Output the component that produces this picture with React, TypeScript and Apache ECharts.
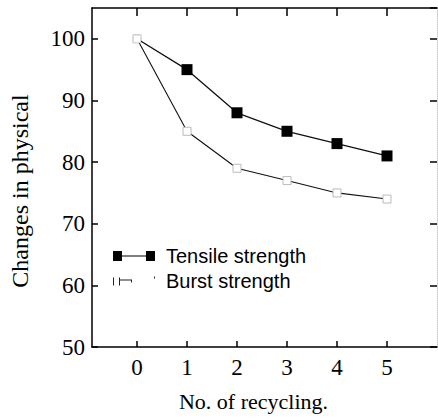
import React, { useEffect, useRef } from "react";
import * as echarts from "echarts";

const cycles = [0, 1, 2, 3, 4, 5];
const tensile = [100, 95, 88, 85, 83, 81];
const burst = [100, 85, 79, 77, 75, 74];
const seriesNames = ["Tensile strength", "Burst strength"];
const xTicks = [0, 1, 2, 3, 4, 5];

export default function App() {
  const ref = useRef<HTMLDivElement>(null);
  useEffect(() => {
    if (!ref.current) return;
    const chart = echarts.init(ref.current, null, { renderer: "svg" });
    const serif = "Liberation Serif";
    const tensileData = cycles.map((c, i) =>
      i === 0
        ? { value: [c, tensile[i]], symbolSize: 7, itemStyle: { color: "#fff", borderColor: "#ddd", borderWidth: 1 } }
        : { value: [c, tensile[i]] }
    );
    const burstData = cycles.map((c, i) => ({ value: [c, burst[i]] }));
    chart.setOption({
      animation: false,
      backgroundColor: "#fff",
      grid: { left: 87, top: 8, right: 1, bottom: 72 },
      xAxis: [
        {
          type: "value",
          position: "bottom",
          min: -0.9,
          max: 6,
          name: "No. of recycling.",
          nameLocation: "middle",
          nameGap: 43,
          nameTextStyle: { fontFamily: serif, fontSize: 22, color: "#000", padding: [0, 22, 0, 0] },
          axisLine: { show: true, onZero: false, lineStyle: { color: "#000", width: 1.5 } },
          axisTick: { show: true, inside: true, length: 6, customValues: xTicks, lineStyle: { color: "#000", width: 1.5 } },
          axisLabel: { customValues: xTicks, fontFamily: serif, fontSize: 23, color: "#000", margin: 9 },
          splitLine: { show: false },
        },
        {
          type: "value",
          position: "top",
          min: -0.9,
          max: 6,
          axisLine: { show: true, onZero: false, lineStyle: { color: "#000", width: 1.5 } },
          axisTick: { show: true, inside: true, length: 8, customValues: xTicks, lineStyle: { color: "#000", width: 1.5 } },
          axisLabel: { show: false },
          splitLine: { show: false },
        },
      ],
      yAxis: [
        {
          type: "value",
          position: "left",
          min: 50,
          max: 105,
          interval: 10,
          name: "Changes in physical",
          nameLocation: "middle",
          nameGap: 60,
          nameTextStyle: { fontFamily: serif, fontSize: 24, color: "#000", padding: [0, 27, 0, 0] },
          axisLine: { show: true, onZero: false, lineStyle: { color: "#000", width: 1.5 } },
          axisTick: { show: true, inside: true, length: 6, lineStyle: { color: "#000", width: 1.5 } },
          axisLabel: { fontFamily: serif, fontSize: 23, color: "#000", margin: 7, showMaxLabel: false },
          splitLine: { show: false },
        },
        {
          type: "value",
          position: "right",
          min: 50,
          max: 105,
          interval: 10,
          axisLine: { show: true, onZero: false, lineStyle: { color: "#ccc", width: 1, type: "dotted" } },
          axisTick: { show: true, inside: true, length: 7, lineStyle: { color: "#000", width: 1.5 } },
          axisLabel: { show: false },
          splitLine: { show: false },
        },
      ],
      legend: {
        orient: "vertical",
        left: 108,
        top: 241,
        itemWidth: 42,
        itemHeight: 10,
        itemGap: 5,
        textStyle: { fontFamily: "Liberation Sans", fontSize: 20, color: "#000", lineHeight: 19, padding: [0, 0, 0, 6] },
        data: [
          {
            name: seriesNames[0],
            icon: "path://M0,0h9v10h-9z M33,0h9v10h-9z M9,4.4h24v1.2h-24z",
            itemStyle: { color: "#000", borderColor: "#000", borderWidth: 0 },
          },
          {
            name: seriesNames[1],
            icon: "path://M0,1h1v8h-1z M6,1h1v8h-1z M7,3h12v1h-12z M18,3h1v3h-1z M41,0h1v2h-1z",
            itemStyle: { color: "#222", borderColor: "#222", borderWidth: 0 },
          },
        ],
      },
      series: [
        {
          name: seriesNames[0],
          type: "line",
          xAxisIndex: 0,
          yAxisIndex: 0,
          data: tensileData,
          symbol: "rect",
          symbolSize: 11,
          itemStyle: { color: "#000" },
          lineStyle: { color: "#111", width: 1.3 },
          z: 3,
        },
        {
          name: seriesNames[1],
          type: "line",
          xAxisIndex: 0,
          yAxisIndex: 0,
          data: burstData,
          symbol: "rect",
          symbolSize: 8,
          itemStyle: { color: "#fff", borderColor: "#bbb", borderWidth: 1 },
          lineStyle: { color: "#111", width: 1.1 },
          z: 2,
        },
      ],
    });
    return () => chart.dispose();
  }, []);
  return <div ref={ref} style={{ width: 438, height: 419, position: "absolute", left: 0, top: 0 }} />;
}
